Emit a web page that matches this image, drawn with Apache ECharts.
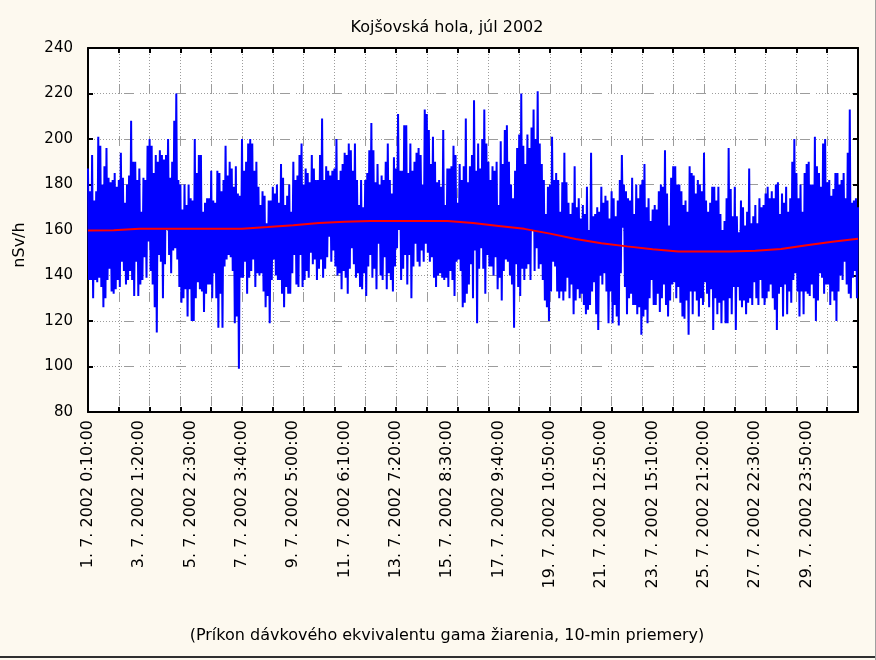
<!DOCTYPE html>
<html>
<head>
<meta charset="utf-8">
<script src="https://cdn.jsdelivr.net/npm/echarts@6/dist/echarts.min.js"></script>
<style>
html,body{margin:0;padding:0;background:#fdf9ef;}
#chart{width:876px;height:660px;}
</style>
</head>
<body>
<div id="chart"></div>
<script>
// ---------- texts ----------
const titleText = 'Kojšovská hola, júl 2002';
const yAxisName = 'nSv/h';
const captionText = '(Príkon dávkového ekvivalentu gama žiarenia, 10-min priemery)';

// ---------- x tick labels (one every 50 plotted samples) ----------
const tickLabels = [
  '1. 7. 2002 0:10:00', '3. 7. 2002 1:20:00', '5. 7. 2002 2:30:00', '7. 7. 2002 3:40:00',
  '9. 7. 2002 5:00:00', '11. 7. 2002 6:10:00', '13. 7. 2002 7:20:00', '15. 7. 2002 8:30:00',
  '17. 7. 2002 9:40:00', '19. 7. 2002 10:50:00', '21. 7. 2002 12:50:00', '23. 7. 2002 15:10:00',
  '25. 7. 2002 21:20:00', '27. 7. 2002 22:30:00', '29. 7. 2002 23:50:00'
];

// ---------- y axis ----------
const yMin = 80, yMax = 240, yStep = 20;

// ---------- dose rate (nSv/h): high / low values of the 10-min series ----------
const doseHigh = [
  187,177,193,173,177,201,197,180,188,196,183,181,182,185,179,182,194,183,172,180,
  184,208,190,190,182,187,168,183,182,197,200,197,185,193,190,195,193,191,193,200,
  183,190,208,220,182,180,169,180,171,180,174,173,200,185,193,193,168,172,174,174,
  186,173,172,186,185,177,182,197,184,190,187,179,188,176,175,
  200,186,190,198,200,198,186,190,179,171,177,175,163,173,173,179,176,180,172,189,
  183,171,175,180,168,190,182,184,193,198,180,187,185,181,193,187,182,182,193,209,
  182,188,186,184,186,187,200,182,186,189,194,193,198,195,186,198,182,171,182,170,
  182,185,195,207,195,181,189,180,184,182,190,198,182,176,192,187,
  211,186,186,206,206,185,198,186,190,194,196,193,180,213,211,204,189,201,190,181,
  182,179,204,171,187,187,188,197,193,172,189,182,188,209,181,188,193,217,186,198,
  187,200,213,198,190,182,188,186,190,171,199,189,204,206,190,180,174,186,196,202,
  220,197,189,202,196,205,213,200,221,198,189,182,167,179,180,
  201,182,185,182,168,181,194,181,172,167,172,188,170,174,165,171,167,179,160,194,
  166,167,170,168,179,172,175,173,165,177,174,166,173,182,193,180,177,174,173,183,
  167,180,174,180,182,189,170,174,164,169,171,169,177,180,179,195,176,162,183,188,
  188,180,180,177,171,173,168,188,185,184,176,182,180,177,194,
  173,168,172,179,179,173,179,167,160,164,174,196,178,166,179,166,159,173,170,162,
  168,187,163,166,171,163,174,170,171,176,179,174,177,174,180,181,167,176,172,179,
  168,174,190,200,185,174,180,168,185,189,190,180,180,201,188,185,179,198,200,181,
  182,175,178,185,185,180,182,185,174,194,213,172,173,174,170
];
const doseLow = [
  138,138,130,138,137,139,135,126,130,138,143,133,132,134,138,135,146,142,136,138,
  142,138,131,146,131,136,138,148,139,155,142,136,126,115,149,146,130,145,160,149,
  141,151,152,147,135,128,130,134,122,134,120,120,130,137,134,133,124,132,136,136,
  130,141,130,117,132,117,144,147,149,148,142,119,122,99,139,
  139,146,132,139,142,147,135,141,140,141,133,126,131,119,138,147,140,138,138,132,
  126,135,132,132,141,149,136,135,149,135,138,142,139,150,145,147,138,143,147,139,
  143,148,157,146,151,144,140,141,134,142,139,132,143,152,145,139,141,135,134,141,
  131,144,149,139,143,134,154,140,138,148,134,141,138,133,144,152,
  160,138,143,149,136,149,130,144,154,146,144,151,146,154,150,146,148,139,135,140,
  141,139,138,139,135,142,138,131,146,147,142,126,128,132,136,145,130,151,119,143,
  152,143,132,149,144,144,140,148,134,139,129,142,147,146,140,136,117,145,135,131,
  143,138,143,145,138,160,142,152,143,145,138,129,126,120,133,
  146,144,133,130,133,129,133,139,130,136,123,129,134,130,132,127,123,125,127,133,
  137,123,116,140,136,141,133,119,133,119,127,122,118,141,161,135,123,130,132,127,
  127,123,126,114,122,125,119,130,138,127,127,132,124,130,136,127,122,129,136,137,
  130,135,128,122,121,129,114,133,123,133,129,122,130,127,137,
  132,126,134,116,130,123,128,119,129,119,119,130,123,135,116,135,129,126,129,123,
  128,130,127,137,130,127,138,130,127,130,133,136,130,125,116,132,135,122,136,123,
  133,128,138,141,133,122,133,123,133,132,131,136,130,120,129,141,139,132,136,136,
  127,133,129,120,133,140,138,146,136,132,130,139,142,130,138
];

// ---------- smoothed trend (red), one value every 25 plotted samples ----------
const trendValues = [
  159.8,159.9,160.5,160.5,160.5,160.5,160.6,161.3,162.1,163.1,
  163.6,164.0,164.0,164.0,164.0,163.1,161.8,160.5,158.4,156.0,
  154.2,152.8,151.5,150.6,150.6,150.6,150.9,151.6,153.3,154.8,156.2
];

// ---------- build series ----------
const doseSeries = [];
for (let k = 0; k < doseHigh.length; k++) {
  doseSeries.push(doseHigh[k]);
  if (k < doseHigh.length - 1) doseSeries.push(doseLow[k]);
}
const nPts = doseSeries.length;          // 751
const labelEvery = (nPts - 1) / tickLabels.length; // 50
const tickEvery = (nPts - 1) / 25;       // 30
const trendEvery = (nPts - 1) / (trendValues.length - 1); // 25
const trendSeries = trendValues.map((v, i) => [i * trendEvery, v]);

const categories = [];
for (let i = 0; i < nPts; i++) {
  const li = i / labelEvery;
  categories.push(i % labelEvery === 0 && li < tickLabels.length ? tickLabels[li] : 'c' + i);
}
const isLabel = (i) => i % labelEvery === 0 && i / labelEvery < tickLabels.length;
const isTick = (i) => i % tickEvery === 0;

const gridDash = [];
for (let i = 0; i < 12; i++) gridDash.push(1, 2);
gridDash.push(10, 6);

const FONT = '"DejaVu Sans", sans-serif';
const gridLine = { show: true, lineStyle: { color: '#9c9c9c', width: 1, type: gridDash } };
const frameLine = { show: true, onZero: false, lineStyle: { color: '#000', width: 2 } };
const tickStyle = { show: true, inside: true, length: 5, lineStyle: { color: '#000', width: 2 } };

const chart = echarts.init(document.getElementById('chart'), null, { renderer: 'canvas' });
chart.setOption({
  backgroundColor: '#fdf9ef',
  animation: false,
  title: {
    text: titleText, left: 442, top: 15, textAlign: 'center',
    textStyle: { fontFamily: FONT, fontSize: 16, fontWeight: 'normal', color: '#000' }
  },
  grid: { left: 88, right: 18, top: 48, bottom: 248, outerBoundsMode: 'none',
          show: true, backgroundColor: '#ffffff', borderWidth: 0 },
  xAxis: [
    {
      type: 'category', data: categories, boundaryGap: false, position: 'bottom',
      axisLine: frameLine,
      axisTick: Object.assign({}, tickStyle, { interval: isTick }),
      splitLine: Object.assign({}, gridLine, { interval: isTick }),
      axisLabel: {
        interval: isLabel, rotate: 90, margin: 8,
        formatter: (v, i) => (isLabel(i) ? v : ''),
        fontFamily: FONT, fontSize: 16, color: '#000'
      }
    },
    {
      type: 'category', data: categories, boundaryGap: false, position: 'top',
      axisLine: frameLine,
      axisTick: Object.assign({}, tickStyle, { interval: isTick }),
      axisLabel: { show: false }, splitLine: { show: false }
    }
  ],
  yAxis: [
    {
      type: 'value', min: yMin, max: yMax, interval: yStep, position: 'left',
      axisLine: frameLine, axisTick: tickStyle, splitLine: gridLine,
      axisLabel: { margin: 15, fontFamily: FONT, fontSize: 15, color: '#000' }
    },
    {
      type: 'value', min: yMin, max: yMax, interval: yStep, position: 'right',
      axisLine: frameLine, axisTick: tickStyle, splitLine: { show: false },
      axisLabel: { show: false }
    }
  ],
  series: [
    {
      type: 'line', data: doseSeries, xAxisIndex: 0, yAxisIndex: 0,
      symbol: 'none', showSymbol: false, silent: true, z: 2,
      lineStyle: { color: '#0000ff', width: 2, join: 'miter', cap: 'butt' }
    },
    {
      type: 'line', data: trendSeries, xAxisIndex: 0, yAxisIndex: 0,
      symbol: 'none', showSymbol: false, silent: true, z: 3,
      lineStyle: { color: '#ff0000', width: 2 }
    }
  ],
  graphic: [
    { type: 'text', x: 20, y: 245, rotation: Math.PI / 2,
      style: { text: yAxisName, align: 'center', verticalAlign: 'middle',
               font: '16px "DejaVu Sans", sans-serif', fill: '#000' } },
    { type: 'text', x: 447, y: 636,
      style: { text: captionText, align: 'center', verticalAlign: 'middle',
               font: '16px "DejaVu Sans", sans-serif', fill: '#000' } },
    { type: 'line', shape: { x1: 0, y1: 657, x2: 876, y2: 657 },
      style: { stroke: '#303030', lineWidth: 2 } },
    { type: 'line', shape: { x1: 875.5, y1: 0, x2: 875.5, y2: 660 },
      style: { stroke: '#a0a0a0', lineWidth: 1 } }
  ]
});
</script>
</body>
</html>
